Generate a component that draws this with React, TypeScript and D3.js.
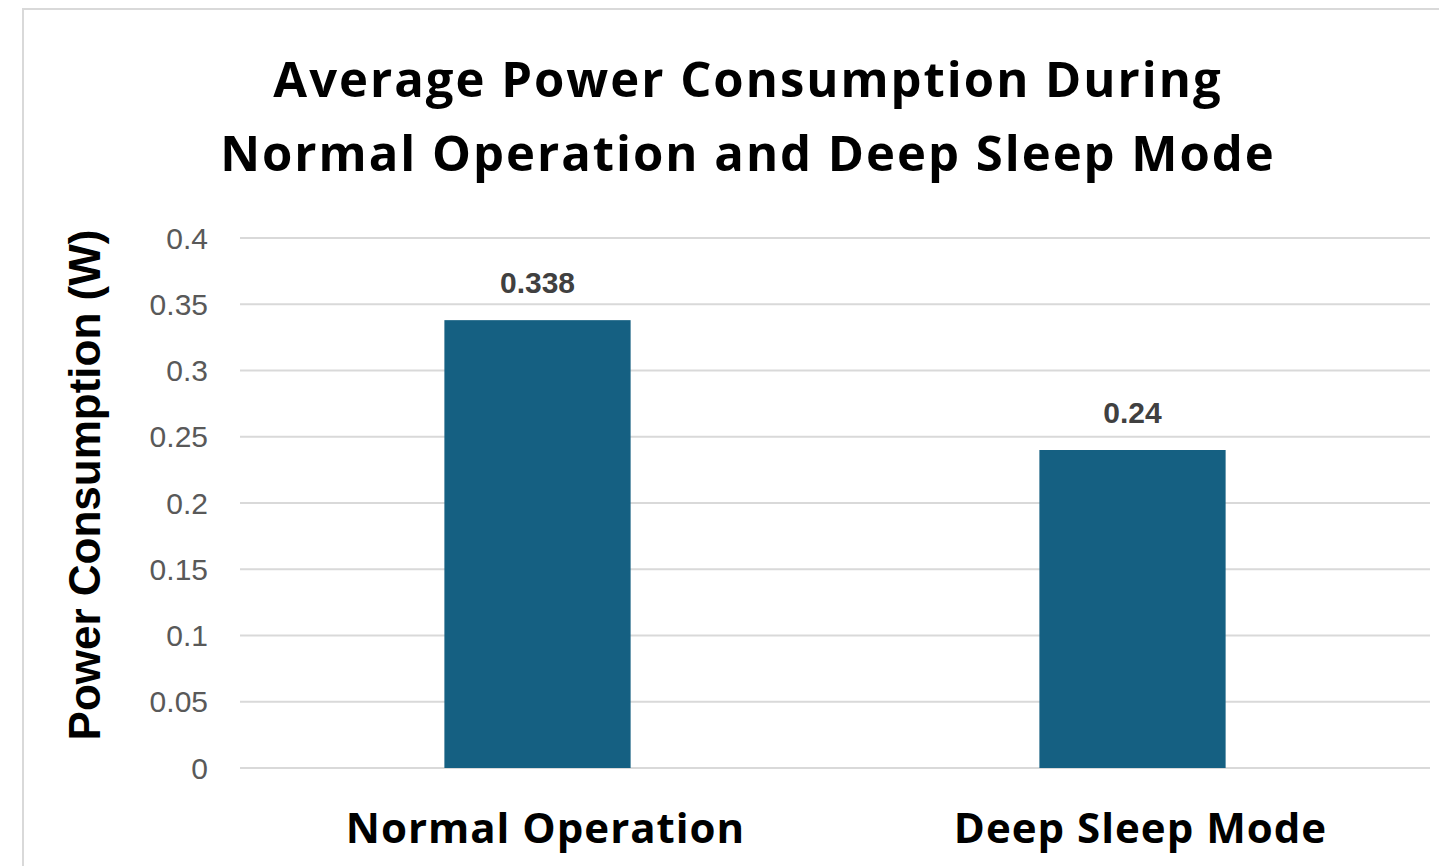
import React from 'react'
import * as d3 from 'd3'

// chart data
const categories = ['Normal Operation', 'Deep Sleep Mode']
const powerValues = [0.338, 0.24]
const valueLabels = ['0.338', '0.24']
const yTicks = [0, 0.05, 0.1, 0.15, 0.2, 0.25, 0.3, 0.35, 0.4]
const yTickLabels = ['0', '0.05', '0.1', '0.15', '0.2', '0.25', '0.3', '0.35', '0.4']
const titleLines = ['Average Power Consumption During', 'Normal Operation and Deep Sleep Mode']
const yAxisTitle = 'Power Consumption (W)'

const W = 1439
const H = 866
const plot = { left: 240, right: 1430, top: 238, bottom: 768 }

const barColor = '#156082'
const gridColor = '#d9d9d9'

export default function App() {
  const x = d3.scaleBand()
    .domain(categories)
    .range([plot.left, plot.right])
    .paddingInner(0)
    .paddingOuter(0)

  const y = d3.scaleLinear()
    .domain([0, 0.4])
    .range([plot.bottom, plot.top])

  // bars take about a third of each category slot
  const barW = x.bandwidth() * 0.313

  return (
    <div>
      <style>{`body{margin:0}`}</style>
      <svg width={W} height={H} style={{ display: 'block', background: '#fff' }}>
        {/* chart frame, cropped at right and bottom */}
        <rect x={23} y={9} width={W} height={H} fill="none" stroke={gridColor} strokeWidth={2} />

        {/* title */}
        <g fontFamily="'Open Sans', sans-serif" fontWeight={700} fontSize={49} fill="#000" textAnchor="middle" letterSpacing={2}>
          {titleLines.map((t, i) => (
            <text key={t} x={748} y={97 + i * 74}>{t}</text>
          ))}
        </g>

        {/* gridlines */}
        {yTicks.map(t => (
          <line key={t} x1={plot.left} x2={plot.right} y1={y(t)} y2={y(t)} stroke={gridColor} strokeWidth={2} />
        ))}

        {/* y tick labels */}
        <g fontFamily="'Liberation Sans', Arial, sans-serif" fontSize={30} fill="#595959" textAnchor="end">
          {yTicks.map((t, i) => (
            <text key={t} x={208} y={y(t)} dy="0.35em">{yTickLabels[i]}</text>
          ))}
        </g>

        {/* bars */}
        {categories.map((c, i) => (
          <rect
            key={c}
            x={x(c)! + x.bandwidth() / 2 - barW / 2}
            y={y(powerValues[i])}
            width={barW}
            height={y(0) - y(powerValues[i])}
            fill={barColor}
          />
        ))}

        {/* value labels */}
        <g fontFamily="'Liberation Sans', Arial, sans-serif" fontWeight={700} fontSize={30} fill="#404040" textAnchor="middle">
          {categories.map((c, i) => (
            <text key={c} x={x(c)! + x.bandwidth() / 2} y={y(powerValues[i]) - 27}>{valueLabels[i]}</text>
          ))}
        </g>

        {/* category labels */}
        <g fontFamily="'Open Sans', sans-serif" fontWeight={700} fontSize={42} fill="#000" textAnchor="middle" letterSpacing={1}>
          {categories.map(c => (
            <text key={c} x={x(c)! + x.bandwidth() / 2 + 8} y={843}>{c}</text>
          ))}
        </g>

        {/* y axis title */}
        <text
          transform={`translate(100, 485) rotate(-90)`}
          fontFamily="'Liberation Sans', Arial, sans-serif"
          fontWeight={700}
          fontSize={44}
          fill="#000"
          textAnchor="middle"
        >
          {yAxisTitle}
        </text>
      </svg>
    </div>
  )
}
